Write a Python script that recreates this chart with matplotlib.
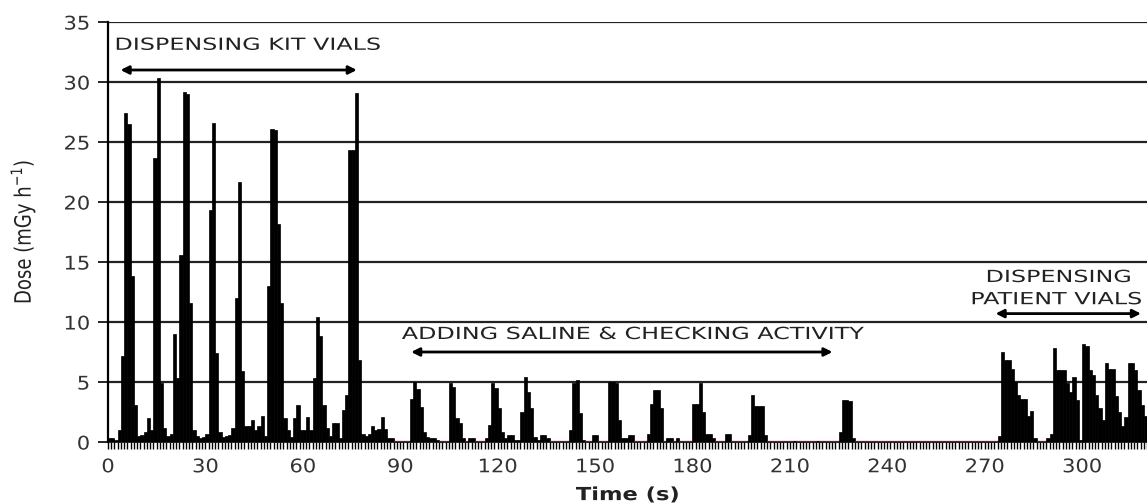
import numpy as np
import matplotlib
matplotlib.use("Agg")
import matplotlib.pyplot as plt
from matplotlib.ticker import MultipleLocator
from matplotlib.patheffects import AbstractPathEffect
from matplotlib.transforms import Affine2D

# dose rate per second (mGy/h), t = 0..319 s
dose = [
    0.3, 0.3, 0.2, 1.0, 7.2, 27.4, 26.5, 13.8, 3.1, 0.5,
    0.6, 0.8, 2.0, 1.0, 23.7, 30.3, 4.9, 1.2, 0.5, 0.7,
    9.0, 5.3, 15.6, 29.2, 29.0, 11.6, 1.0, 0.5, 0.3, 0.4,
    0.7, 19.3, 26.6, 7.4, 0.8, 0.4, 0.5, 0.6, 1.2, 12.0,
    21.7, 5.9, 1.3, 1.3, 1.8, 1.0, 1.3, 2.2, 0.5, 13.0,
    26.1, 26.0, 18.2, 11.6, 2.0, 1.0, 0.4, 2.0, 3.1, 1.0,
    1.0, 2.1, 1.0, 5.3, 10.4, 8.8, 3.1, 1.2, 0.5, 1.6,
    1.6, 0.3, 2.7, 3.9, 24.3, 24.3, 29.1, 6.8, 0.7, 0.5,
    0.7, 1.3, 1.0, 1.1, 2.1, 1.1, 0.3, 0.3, 0.1, 0.1,
    0.1, 0.1, 0.1, 3.6, 5.0, 4.4, 2.9, 0.8, 0.4, 0.3,
    0.3, 0.2, 0.1, 0.1, 0.1, 4.9, 4.6, 2.0, 1.6, 0.3,
    0.1, 0.3, 0.3, 0.1, 0.1, 0.1, 0.3, 1.4, 4.9, 4.5,
    2.8, 0.8, 0.3, 0.6, 0.6, 0.2, 0.2, 2.5, 5.4, 4.2,
    2.8, 0.4, 0.2, 0.6, 0.6, 0.3, 0.1, 0.1, 0.1, 0.1,
    0.1, 0.1, 1.0, 4.9, 5.2, 2.4, 0.2, 0.1, 0.1, 0.6,
    0.6, 0.1, 0.1, 0.1, 5.0, 5.0, 4.9, 1.8, 0.3, 0.3,
    0.6, 0.6, 0.1, 0.1, 0.1, 0.1, 0.7, 3.2, 4.3, 4.3,
    2.8, 0.1, 0.3, 0.3, 0.1, 0.3, 0.1, 0.1, 0.1, 0.1,
    3.2, 3.2, 4.9, 2.5, 0.7, 0.7, 0.3, 0.1, 0.1, 0.1,
    0.7, 0.7, 0.1, 0.1, 0.1, 0.1, 0.1, 0.6, 3.9, 3.0,
    3.0, 3.0, 0.6, 0.1, 0.1, 0.1, 0.1, 0.1, 0.1, 0.1,
    0.1, 0.0, 0.1, 0.1, 0.1, 0.1, 0.1, 0.1, 0.0, 0.1,
    0.1, 0.1, 0.1, 0.1, 0.1, 0.8, 3.5, 3.5, 3.4, 0.3,
    0.1, 0.1, 0.1, 0.1, 0.1, 0.1, 0.1, 0.1, 0.1, 0.1,
    0.1, 0.1, 0.1, 0.1, 0.1, 0.1, 0.1, 0.1, 0.1, 0.1,
    0.1, 0.1, 0.1, 0.1, 0.1, 0.1, 0.1, 0.1, 0.1, 0.1,
    0.1, 0.1, 0.1, 0.1, 0.1, 0.1, 0.1, 0.1, 0.1, 0.1,
    0.1, 0.1, 0.1, 0.1, 0.5, 7.5, 6.8, 6.8, 6.1, 5.0,
    3.9, 3.6, 3.6, 2.2, 2.6, 0.3, 0.1, 0.1, 0.1, 0.3,
    0.7, 7.8, 6.0, 6.0, 6.0, 4.9, 4.2, 5.4, 3.5, 0.2,
    8.2, 8.0, 6.0, 5.6, 3.9, 2.8, 1.8, 6.6, 6.1, 6.1,
    3.8, 2.5, 1.3, 2.1, 6.6, 6.6, 6.0, 4.3, 3.1, 2.2,
]
time_s = np.arange(len(dose))

phases = ["DISPENSING KIT VIALS", "ADDING SALINE & CHECKING ACTIVITY"]
phase_spans = [(3, 77.5), (92.5, 224)]
patient_span = (272.5, 319)


class Stretch(AbstractPathEffect):
    # the source image is stretched sideways, so widen the glyphs to match
    def __init__(self, sx=1.0, sy=1.0, anchor="left"):
        super().__init__()
        self.sx, self.sy, self.anchor = sx, sy, anchor

    def draw_path(self, renderer, gc, tpath, affine, rgbFace=None):
        ext = tpath.get_extents()
        x0 = {"left": ext.x0, "center": (ext.x0 + ext.x1) / 2, "right": ext.x1}[self.anchor]
        y0 = (ext.y0 + ext.y1) / 2
        t = Affine2D().translate(-x0, -y0).scale(self.sx, self.sy).translate(x0, y0)
        renderer.draw_path(gc, tpath, t + affine, rgbFace)


fig = plt.figure(figsize=(11.47, 5.04), dpi=100)
ax = fig.add_axes([108 / 1147, 62 / 504, 1 - 108 / 1147, 420 / 504])

# background-level readings show up as a thin maroon line in the original
bar_edges = ["#8a2a52" if v <= 0.15 else "black" for v in dose]
ax.bar(time_s, dose, width=1.0, align="edge", color="black",
       edgecolor=bar_edges, linewidth=0.5, zorder=3)

ax.set_xlim(0, 320)
ax.set_ylim(0, 35)
ax.xaxis.set_major_locator(MultipleLocator(30))
ax.xaxis.set_minor_locator(MultipleLocator(1))
ax.yaxis.set_major_locator(MultipleLocator(5))
ax.grid(axis="y", color="#222222", linewidth=1.6, zorder=1)
ax.tick_params(axis="x", which="both", direction="out", length=5, width=1,
               colors="black", labelcolor="#333333", labelsize=13.5, pad=6)
ax.tick_params(axis="y", direction="out", length=7, width=1.2,
               labelcolor="#333333", labelsize=13.5, pad=6)
for s in ["top", "right"]:
    ax.spines[s].set_visible(False)
ax.spines["left"].set_linewidth(1.6)
ax.spines["bottom"].set_linewidth(1.2)

for lab in ax.get_xticklabels():
    lab.set_path_effects([Stretch(sx=1.12, anchor="center")])
for lab in ax.get_yticklabels():
    lab.set_path_effects([Stretch(sx=1.12, anchor="right")])

ax.set_ylabel("Dose (mGy h$^{-1}$)", fontsize=13, color="#222222",
              path_effects=[Stretch(sy=1.25, anchor="center")])
ax.yaxis.set_label_coords(-0.07, 0.5)
ax.set_xlabel("Time (s)", fontsize=13, fontweight="bold", color="#222222",
              va="top", path_effects=[Stretch(sx=1.25, anchor="center")])
ax.xaxis.set_label_coords(0.5, -0.105)

txt = dict(fontsize=12, color="#222222", zorder=5,
           path_effects=[Stretch(sx=1.43, anchor="left")])
arrow = dict(arrowstyle="<|-|>", color="black", lw=2, mutation_scale=12)

ax.text(2.2, 33.1, phases[0], ha="left", va="center", **txt)
ax.annotate("", xy=(phase_spans[0][0], 31.0), xytext=(phase_spans[0][1], 31.0),
            arrowprops=arrow, zorder=5)

ax.text(90.5, 9.0, phases[1], ha="left", va="center", **txt)
ax.annotate("", xy=(phase_spans[1][0], 7.5), xytext=(phase_spans[1][1], 7.5),
            arrowprops=arrow, zorder=5)

ax.text(270.5, 13.75, "DISPENSING", ha="left", va="center", clip_on=False, **txt)
ax.text(265.8, 11.9, "PATIENT VIALS", ha="left", va="center", clip_on=False, **txt)
ax.annotate("", xy=(patient_span[0], 10.7), xytext=(patient_span[1], 10.7),
            arrowprops=arrow, zorder=5, annotation_clip=False)

fig.savefig("out.png", dpi=100)
